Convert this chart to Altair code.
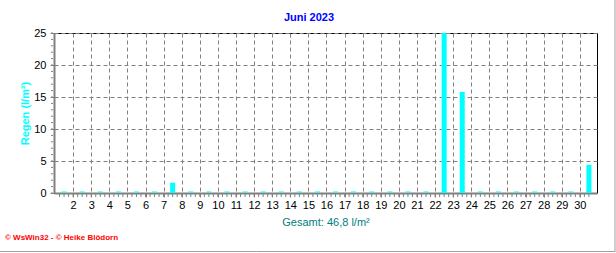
import altair as alt
import pandas as pd

# ---- data ----
days = list(range(1, 31))
rain = [0, 0, 0, 0, 0, 0, 1.6, 0, 0, 0,
        0, 0, 0, 0, 0, 0, 0, 0, 0, 0,
        0, 25.0, 15.8, 0, 0, 0, 0, 0, 0, 4.4]
x_labels = list(range(2, 31))
y_labels = [0, 5, 10, 15, 20, 25]
x_minor = [d / 4 for d in range(5, 123)]        # quarter-day minor ticks
y_minor = list(range(0, 26))
title_text = "Juni 2023"
x_title = "Gesamt: 46,8 l/m²"
y_title = "Regen (l/m²)"
footer = "© WsWin32  -  © Heike Blödorn"

df = pd.DataFrame({"day": days, "rain": rain})

FONT = "Liberation Sans"
GRAY = "#808080"

xscale = alt.Scale(domain=[1.22, 30.67], nice=False, zero=False)
yscale = alt.Scale(domain=[0, 25], nice=False)

xaxis = alt.Axis(
    values=x_labels, format="d", labelOverlap=False,
    labelFont=FONT, labelFontSize=11, labelColor="black", labelPadding=2,
    tickSize=4, tickColor=GRAY,
    grid=True, gridColor=GRAY, gridDash=[4, 3],
    domainColor=GRAY, domainWidth=2,
    title=x_title, titleFont=FONT, titleFontSize=11, titleFontWeight="normal",
    titleColor="#008080", titlePadding=6,
)
yaxis = alt.Axis(
    values=y_labels, format="d", labelOverlap=False,
    labelFont=FONT, labelFontSize=11, labelColor="black", labelPadding=4,
    tickSize=4, tickColor=GRAY,
    grid=True, gridColor=GRAY, gridDash=[4, 3],
    domainColor=GRAY, domainWidth=2,
    title=y_title, titleFont=FONT, titleFontSize=11, titleFontWeight="bold",
    titleColor="#00FFFF", titlePadding=3,
)

def X(f):
    return alt.X(f, type="quantitative", scale=xscale, axis=xaxis)

def Y(f):
    return alt.Y(f, type="quantitative", scale=yscale, axis=yaxis)

base = alt.Chart(df).transform_calculate(pos="datum.day + 0.5", zero="0")

bars = base.mark_bar(color="#00FFFF", size=5).encode(x=X("pos"), y=Y("rain"))

zero_marks = base.mark_tick(color="#00FFFF", orient="horizontal", size=5,
                            thickness=1.5, yOffset=-1).encode(x=X("pos"), y=Y("zero"))

xminor = alt.Chart(pd.DataFrame({"t": x_minor})).mark_rule(color=GRAY).encode(
    x=X("t"), y=alt.value(161), y2=alt.value(164))
yminor = alt.Chart(pd.DataFrame({"t": y_minor})).mark_rule(color=GRAY).encode(
    y=Y("t"), x=alt.value(-3), x2=alt.value(-1))

one = alt.Data(values=[{"a": 1}])
frame_right = alt.Chart(one).mark_rule(color="#a0a0a0", strokeWidth=1).encode(
    x=alt.value(561), y=alt.value(-33), y2=alt.value(219))
frame_bottom = alt.Chart(one).mark_rule(color="#a0a0a0", strokeWidth=1).encode(
    x=alt.value(-54), x2=alt.value(561), y=alt.value(218.5))
foot = alt.Chart(one).mark_text(
    text=footer, color="#FF0000", font=FONT, fontSize=8, fontWeight="bold",
    align="left", baseline="middle").encode(x=alt.value(-49), y=alt.value(205))
title = alt.Chart(one).mark_text(
    text=title_text, color="#0000FF", font=FONT, fontSize=11, fontWeight="bold",
    align="center", baseline="middle").encode(x=alt.value(255), y=alt.value(-15))

chart = alt.layer(bars, zero_marks, xminor, yminor, frame_right, frame_bottom,
                  foot, title).properties(
    width=543, height=160,
    autosize=alt.AutoSizeParams(type="none"),
    padding={"left": 54, "top": 33, "right": 19, "bottom": 60},
    background="white",
).configure_view(stroke="black", strokeWidth=1)

chart.save("out.html", embed_options={"renderer": "svg", "actions": False})
